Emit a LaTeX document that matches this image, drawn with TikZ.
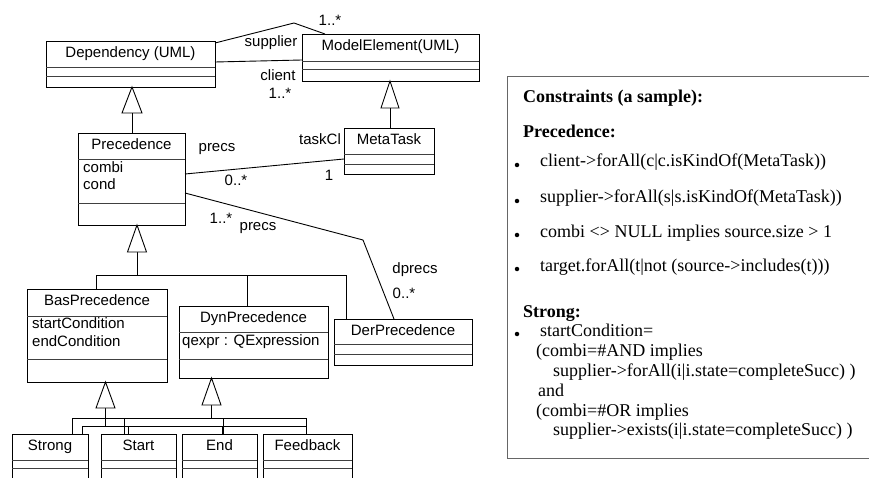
\documentclass[tikz,border=0pt]{standalone}
\usepackage{fontspec}
\setmainfont{Liberation Serif}
\newfontfamily\diafont{Liberation Sans}
\usetikzlibrary{calc}
\newcommand{\ucls}[8]{%
  \node[clsbox, minimum width=#4pt, minimum height=#5pt] (#1) at (#2,#3) {};
  \draw[sepline] ($(#1.north west)+(0,#6)$) -- ($(#1.north east)+(0,#6)$);
  \draw[sepline] ($(#1.north west)+(0,#7)$) -- ($(#1.north east)+(0,#7)$);
  \node[ctitle] (#1-t) at ($(#1.north)+(0,16.5)$) {#8};
}
\begin{document}
\begin{tikzpicture}[x=1pt,y=-1pt,
  clsbox/.style={draw=black, line width=0.9pt, fill=white, anchor=north west, inner sep=0pt, outer sep=0pt},
  sepline/.style={draw=black!75, line width=0.9pt},
  conn/.style={draw=black, line width=0.9pt},
  dtext/.style={font=\diafont\fontsize{15}{18}\selectfont, inner sep=0pt},
  ctitle/.style={dtext, anchor=base},
  cattr/.style={dtext, anchor=base west},
  lbl/.style={dtext},
  gentri/.style={draw=black, line width=0.9pt, fill=white, line join=miter},
  ctext/.style={font=\fontsize{18}{21}\selectfont, anchor=base west, inner sep=0pt},
  chead/.style={font=\fontsize{18}{21}\selectfont\bfseries, anchor=base west, inner sep=0pt},
  bul/.style={circle, fill=black, inner sep=0pt, minimum size=4.5pt},
]
\useasboundingbox[fill=white] (0,0) rectangle (869,478);

% ---------- classes ----------
\ucls{dep}{46}{41}{169}{46}{26}{35}{Dependency (UML)}
\ucls{me}{302}{34}{177}{47}{27}{35}{ModelElement(UML)}
\ucls{prec}{78}{133}{107}{92}{26}{70}{Precedence}
\ucls{meta}{344}{128}{90}{46}{26}{36}{MetaTask}
\ucls{bas}{27}{289}{140}{93}{27}{70}{BasPrecedence}
\ucls{dyn}{179}{306}{149}{72}{26}{53}{DynPrecedence}
\ucls{der}{334}{319}{138}{46}{25}{35}{DerPrecedence}
\ucls{strong}{12}{434}{76}{55}{26}{34}{Strong}
\ucls{start}{101}{434}{75}{55}{26}{34}{Start}
\ucls{end}{182}{434}{75}{55}{26}{34}{End}
\ucls{fb}{263}{434}{89}{55}{26}{34}{Feedback}

\node[cattr] (a1) at (83,173) {combi};
\node[cattr] (a2) at (83,190) {cond};
\node[cattr] (a3) at (32,328.5) {startCondition};
\node[cattr] (a4) at (32,346.5) {endCondition};
\node[cattr] (a5) at (182,345) {qexpr : QExpression};

% ---------- associations ----------
\coordinate (s0) at (dep.north east |- 0,43);
\coordinate (s1) at (294,23);
\coordinate (s2) at (me.north west -| 325,0);
\draw[conn] (s0) -- (s1) -- (s2);
\coordinate (c0) at (dep.east |- 0,62);
\coordinate (c1) at (me.west |- 0,60);
\draw[conn] (c0) -- (c1);
\coordinate (p0) at (prec.east |- 0,174);
\coordinate (p1) at (meta.west |- 0,159);
\draw[conn] (p0) -- (p1);
\coordinate (q0) at (prec.east |- 0,193);
\coordinate (q1) at (363,240);
\coordinate (q2) at (der.north -| 394,0);
\draw[conn] (q0) -- (q1) -- (q2);

\node[lbl] (l1) at (330,20) {1..*};
\node[lbl] (l2) at (271,43) {supplier};
\node[lbl] (l3) at (278,75) {client};
\node[lbl] (l4) at (280,93) {1..*};
\node[lbl] (l5) at (320,139) {taskCl};
\node[lbl] (l6) at (217,149) {precs};
\node[lbl] (l7) at (236,180) {0..*};
\node[lbl] (l8) at (329,175) {1};
\node[lbl] (l9) at (221,218) {1..*};
\node[lbl] (l10) at (258,228) {precs};
\node[lbl] (l11) at (415,270) {dprecs};
\node[lbl] (l12) at (404,293) {0..*};

% ---------- generalizations ----------
\coordinate (g1) at (132,113);
\draw[conn] (g1) -- (g1 |- prec.north);
\draw[gentri] (dep.south -| 132,0) -- (122,113) -- (142,113) -- cycle;

\coordinate (g2) at (390,108);
\draw[conn] (g2) -- (g2 |- meta.north);
\draw[gentri] (me.south -| 390,0) -- (381,108) -- (399,108) -- cycle;

\coordinate (g3) at (137,252);
\coordinate (h1) at (96,275);
\coordinate (h2) at (247,275);
\coordinate (h3) at (346,275);
\draw[conn] (g3) -- (g3 |- h1);
\draw[conn] (h1) -- (h3);
\draw[conn] (h1) -- (h1 |- bas.north);
\draw[conn] (h2) -- (h2 |- dyn.north);
\draw[conn] (h3) -- (h3 |- der.north);
\draw[gentri] (prec.south -| 137,0) -- (127.5,252) -- (146.5,252) -- cycle;

% lower trees
\coordinate (u1) at (72,418);
\coordinate (u2) at (124,418);
\coordinate (u3) at (223,418);
\coordinate (u4) at (306,418);
\coordinate (w1) at (82,426);
\coordinate (w2) at (128,426);
\coordinate (w3) at (222,426);
\coordinate (w4) at (306,426);
\draw[conn] (u1) -- (u4);
\draw[conn] (w1) -- (w4);
\draw[conn] (u1) -- (u1 |- strong.north);
\draw[conn] (u2) -- (u2 |- start.north);
\draw[conn] (u3) -- (u3 |- end.north);
\draw[conn] (u4) -- (u4 |- fb.north);
\draw[conn] (w1) -- (w1 |- strong.north);
\draw[conn] (w2) -- (w2 |- start.north);
\draw[conn] (w3) -- (w3 |- end.north);

\coordinate (g4) at (105.5,408);
\draw[conn] (g4) -- (g4 |- w1);
\draw[gentri] (bas.south -| 105.5,0) -- (96,408) -- (115,408) -- cycle;
\coordinate (g5) at (211.5,405);
\draw[conn] (g5) -- (g5 |- u1);
\draw[gentri] (dyn.south -| 211.5,0) -- (202,405) -- (221,405) -- cycle;

% ---------- constraints box ----------
\node[draw=black!60, line width=1.4pt, anchor=north west, inner sep=0pt,
      minimum width=380pt, minimum height=382pt] (cbox) at (507,76) {};
\node[chead] (k0) at (523,103) {Constraints (a sample):};
\node[chead] (k1) at (523,138) {Precedence:};
\node[bul] (b1) at (517,165) {};
\node[ctext] (k2) at (540,167) {client->forAll(c|c.isKindOf(MetaTask))};
\node[bul] (b2) at (517,201) {};
\node[ctext] (k3) at (540,203) {supplier->forAll(s|s.isKindOf(MetaTask))};
\node[bul] (b3) at (517,235) {};
\node[ctext] (k4) at (540,237) {combi <> NULL implies source.size > 1};
\node[bul] (b4) at (517,269) {};
\node[ctext] (k5) at (540,271) {target.forAll(t|not (source->includes(t)))};
\node[chead] (k6) at (523,317) {Strong:};
\node[bul] (b5) at (517,334) {};
\node[ctext] (k7) at (540,336) {startCondition=};
\node[ctext] (k8) at (536,356) {(combi=\#AND implies};
\node[ctext] (k9) at (553,376) {supplier->forAll(i|i.state=completeSucc) )};
\node[ctext] (k10) at (538,396) {and};
\node[ctext] (k11) at (536,416) {(combi=\#OR implies};
\node[ctext] (k12) at (553,435) {supplier->exists(i|i.state=completeSucc) )};
\end{tikzpicture}
\end{document}
